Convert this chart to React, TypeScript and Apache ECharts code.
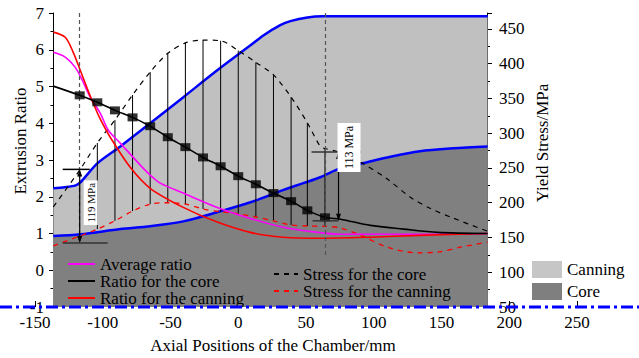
import React, { useEffect, useRef } from 'react';
import * as echarts from 'echarts';

const FONT = 'Liberation Serif';

// ---- x axis (mm) and y axes ----
const xMin = -150;
const xMax = 250;
const xStep = 50;
const ratioMin = -1;
const ratioMax = 7;
const stressMin = 50;
const stressMax = 473;
const stressStep = 50;

// ---- boundary of the canning (upper blue line, light gray area) ----
const canningBoundX = [-136.5, -128, -120, -116.5, -104, -87, -65, -40.5, -15.5, 9, 18.5, 31, 38.5, 51, 62.5, 184];
const canningBoundY = [2.23, 2.26, 2.31, 2.39, 2.91, 3.37, 4.0, 4.71, 5.44, 6.12, 6.39, 6.67, 6.78, 6.88, 6.91, 6.91];

// ---- boundary of the core (lower blue line, dark gray area) ----
const coreBoundX = [-136.5, -116.5, -87, -65, -40.5, -15.5, 9, 33, 48, 60.5, 75.5, 91.5, 110, 134, 158.5, 184];
const coreBoundY = [0.93, 0.98, 1.12, 1.2, 1.33, 1.58, 1.85, 2.18, 2.37, 2.53, 2.78, 2.91, 3.07, 3.24, 3.32, 3.37];

// ---- average ratio ----
const avgRatioX = [-136.5, -127.7, -120.3, -115.1, -109.2, -101.8, -95.9, -87.1, -72.3, -65, -57.6, -40.6, -15.5, 8.9, 33.2, 58.3, 75.3, 134.3, 183.8];
const avgRatioY = [5.93, 5.8, 5.52, 5.17, 4.71, 4.27, 3.81, 3.46, 2.86, 2.59, 2.37, 2.1, 1.71, 1.41, 1.17, 1.03, 0.98, 0.98, 1.0];

// ---- ratio for the core ----
const coreRatioX = [-136.5, -117, -104, -91, -78, -65, -52, -39, -26, -13, 0, 13, 26, 39, 51, 64, 75.5, 97.5, 122, 147, 184];
const coreRatioY = [5.01, 4.76, 4.57, 4.35, 4.16, 3.92, 3.62, 3.35, 3.07, 2.83, 2.56, 2.34, 2.1, 1.88, 1.63, 1.44, 1.39, 1.22, 1.12, 1.03, 1.0];

// ---- ratio for the canning ----
const canRatioX = [-136.5, -127.7, -121.8, -116.6, -111.5, -107, -101.8, -94.5, -79.7, -65, -40.6, -15.5, 8.9, 33.2, 58.3, 97.4, 134.3, 183.8];
const canRatioY = [6.48, 6.34, 5.93, 5.44, 4.95, 4.54, 4.11, 3.62, 2.8, 2.23, 1.71, 1.31, 1.03, 0.9, 0.87, 0.9, 0.95, 1.0];

// ---- markers on the core ratio curve ----
const markerX = [-117, -104, -91, -78, -65, -52, -39, -26, -13, 0, 13, 26, 39, 51, 64];
const markerRatio = [4.76, 4.57, 4.35, 4.16, 3.92, 3.62, 3.35, 3.07, 2.83, 2.56, 2.34, 2.1, 1.88, 1.63, 1.44];
const markerCoreStress = [247, 286, 319, 355, 388, 415, 430, 434, 433, 419, 402, 384, 352, 315, 278];
const markerCanStress = [152, 162, 174, 188, 198, 200, 198, 191, 187, 184, 179.5, 174, 168, 166.5, 166];

// ---- stress for the core ----
const coreStressX = [-136.5, -117, -104, -91, -78, -65, -52, -39, -26, -13, 0, 13, 26, 39, 51, 60.5, 64, 74, 91.5, 110, 127, 141.5, 158.5, 184];
const coreStressY = [194, 247, 286, 319, 355, 388, 415, 430, 434, 433, 419, 402, 384, 352, 315, 281, 278, 273, 257, 234, 208, 192, 178, 159];

// ---- stress for the canning ----
const canStressX = [-136.5, -117, -104, -91, -78, -65, -52, -39, -26, -13, 0, 13, 26, 39, 51, 64, 75, 90, 110, 132, 147, 164, 184];
const canStressY = [138, 152, 162, 174, 188, 198, 200, 198, 191, 187, 184, 179.5, 174, 168, 166.5, 166, 164, 153.6, 136, 128, 129, 136, 143.5];

// ---- annotations ----
const annotX = [-117, 74];
const annotTop = [248, 273];
const annotBottom = [142, 174];
const annotText = ['119 MPa', '113 MPa'];

// ---- dashed guide lines ----
const guideX = [-117, 64];
const guideBottom = [0.73, 0.41];

const zip = (xs: number[], ys: number[]) => xs.map((x, i) => [x, ys[i]]);

const ANNOT_LAYOUT = [
  { topBar: [-17, 10], botBar: [-17, 28], box: { dx0: 4, dx1: 18, fromTop: 11, fromBot: -18, h: 0 } },
  { topBar: [-27, 22], botBar: [-26, 0], box: { dx0: -1, dx1: 22, fromTop: -29, fromBot: null as any, h: 49 } },
];

export default function App() {
  const ref = useRef<HTMLDivElement>(null);

  useEffect(() => {
    if (!ref.current) return;
    const chart = echarts.init(ref.current, undefined, { renderer: 'svg' });

    const labelStyle = { fontFamily: FONT, fontSize: 17, color: '#000' };
    const noSymbol = { color: 'transparent', borderColor: 'transparent', borderWidth: 0 };

    const option: any = {
      animation: false,
      backgroundColor: '#fff',
      textStyle: { fontFamily: FONT },
      grid: { left: 35, right: 62, top: 13, bottom: 51, containLabel: false },
      xAxis: {
        type: 'value',
        min: xMin,
        max: xMax,
        interval: xStep,
        axisLine: { show: false, onZero: false },
        axisTick: { show: true, inside: true, length: 6, lineStyle: { color: '#000' } },
        axisLabel: { ...labelStyle, margin: 7 },
        splitLine: { show: false },
      },
      yAxis: [
        {
          type: 'value',
          min: ratioMin,
          max: ratioMax,
          interval: 1,
          position: 'left',
          offset: -18,
          axisLine: { show: true, onZero: false, lineStyle: { color: '#000', width: 1 } },
          axisTick: { show: true, length: 4, lineStyle: { color: '#000' } },
          minorTick: { show: true, splitNumber: 2, length: 2.5, lineStyle: { color: '#000' } },
          axisLabel: { ...labelStyle, margin: 9 },
          splitLine: { show: false },
        },
        {
          type: 'value',
          min: stressMin,
          max: stressMax,
          interval: stressStep,
          position: 'right',
          offset: -90,
          axisLine: { show: true, onZero: false, lineStyle: { color: '#000', width: 1 } },
          axisTick: { show: true, length: 5, lineStyle: { color: '#000' } },
          minorTick: { show: true, splitNumber: 2, length: 3, lineStyle: { color: '#000' } },
          axisLabel: { ...labelStyle, margin: 12, showMaxLabel: false },
          splitLine: { show: false },
        },
      ],
      legend: [
        {
          data: ['Average ratio', 'Ratio for the core', 'Ratio for the canning'],
          orient: 'vertical',
          left: 67,
          top: 255.5,
          padding: 0,
          itemGap: 0,
          itemWidth: 27,
          itemHeight: 15,
          selectedMode: false,
          itemStyle: noSymbol,
          textStyle: { ...labelStyle, lineHeight: 15 },
        },
        {
          data: ['Stress for the core', 'Stress for the canning'],
          orient: 'vertical',
          left: 273,
          top: 265.5,
          padding: 0,
          itemGap: 0,
          itemWidth: 24,
          itemHeight: 15,
          selectedMode: false,
          itemStyle: noSymbol,
          textStyle: { ...labelStyle, lineHeight: 15 },
        },
        {
          data: [
            { name: 'Canning', icon: 'rect', itemStyle: { color: '#c6c6c6', borderWidth: 0, borderColor: 'transparent' } },
            { name: 'Core', icon: 'rect', itemStyle: { color: '#7f7f7f', borderWidth: 0, borderColor: 'transparent' } },
          ],
          orient: 'vertical',
          left: 532,
          top: 261,
          padding: 0,
          itemGap: 5,
          itemWidth: 30,
          itemHeight: 17,
          selectedMode: false,
          textStyle: { ...labelStyle },
        },
      ],
      series: [
        {
          name: 'Canning',
          type: 'line',
          data: zip(canningBoundX, canningBoundY),
          smooth: 0.3,
          symbol: 'none',
          lineStyle: { color: '#0000ff', width: 2.5 },
          itemStyle: { color: '#c0c0c0' },
          areaStyle: { color: '#c0c0c0', opacity: 1, origin: 'start' },
          z: 1,
        },
        {
          name: 'Core',
          type: 'line',
          data: zip(coreBoundX, coreBoundY),
          smooth: 0.3,
          symbol: 'none',
          lineStyle: { color: '#0000ff', width: 2.5 },
          itemStyle: { color: '#808080' },
          areaStyle: { color: '#808080', opacity: 1, origin: 'start' },
          z: 1,
        },
        {
          name: 'stress difference',
          type: 'custom',
          yAxisIndex: 1,
          z: 3,
          data: markerX.slice(1).map((x, i) => [x, markerCoreStress[i + 1], markerCanStress[i + 1]]),
          renderItem: (params: any, api: any) => {
            const p1 = api.coord([api.value(0), api.value(1)]);
            const p2 = api.coord([api.value(0), api.value(2)]);
            return {
              type: 'line',
              shape: { x1: p1[0], y1: p1[1], x2: p2[0], y2: p2[1] },
              style: { stroke: '#000', lineWidth: 1 },
            };
          },
        },
        {
          name: 'Stress for the core',
          type: 'line',
          yAxisIndex: 1,
          data: zip(coreStressX, coreStressY),
          smooth: 0.3,
          symbol: 'none',
          lineStyle: { color: '#000', width: 1.2, type: [5, 5] },
          itemStyle: { color: '#000' },
          z: 3,
        },
        {
          name: 'Stress for the canning',
          type: 'line',
          yAxisIndex: 1,
          data: zip(canStressX, canStressY),
          smooth: 0.3,
          symbol: 'none',
          lineStyle: { color: '#ff0000', width: 1.3, type: [5, 5] },
          itemStyle: { color: '#ff0000' },
          z: 3,
        },
        {
          name: 'Average ratio',
          type: 'line',
          data: zip(avgRatioX, avgRatioY),
          smooth: 0.3,
          symbol: 'none',
          lineStyle: { color: '#ff00ff', width: 1.6 },
          itemStyle: { color: '#ff00ff' },
          z: 4,
        },
        {
          name: 'Ratio for the canning',
          type: 'line',
          data: zip(canRatioX, canRatioY),
          smooth: 0.3,
          symbol: 'none',
          lineStyle: { color: '#ff0000', width: 1.6 },
          itemStyle: { color: '#ff0000' },
          z: 4,
        },
        {
          name: 'Ratio for the core',
          type: 'line',
          data: zip(coreRatioX, coreRatioY),
          smooth: 0.3,
          symbol: 'none',
          lineStyle: { color: '#000', width: 1.6 },
          itemStyle: { color: '#000' },
          z: 4,
          markLine: {
            silent: true,
            symbol: ['none', 'none'],
            label: { show: false },
            lineStyle: { color: '#555', type: [4, 3], width: 1.2 },
            data: guideX.map((x, i) => [{ coord: [x, ratioMax] }, { coord: [x, guideBottom[i]] }]),
          },
        },
        {
          name: 'core markers',
          type: 'scatter',
          data: zip(markerX, markerRatio),
          symbol: 'rect',
          symbolSize: [10, 8],
          itemStyle: { color: '#000' },
          z: 5,
        },
        {
          name: 'annotations',
          type: 'custom',
          yAxisIndex: 1,
          z: 6,
          data: annotX.map((x, i) => [x, annotTop[i], annotBottom[i]]),
          renderItem: (params: any, api: any) => {
            const i = params.dataIndex;
            const L = ANNOT_LAYOUT[i];
            const t = api.coord([api.value(0), api.value(1)]);
            const b = api.coord([api.value(0), api.value(2)]);
            const cx = t[0];
            const ty = t[1];
            const by = b[1];
            const bx0 = cx + L.box.dx0;
            const bx1 = cx + L.box.dx1;
            const by0 = ty + L.box.fromTop;
            const by1 = L.box.fromBot !== null ? by + L.box.fromBot : by0 + L.box.h;
            const barColor = i === 0 ? '#000' : '#333';
            return {
              type: 'group',
              children: [
                { type: 'line', shape: { x1: cx + L.topBar[0], y1: ty, x2: cx + L.topBar[1], y2: ty }, style: { stroke: barColor, lineWidth: 1.5 } },
                { type: 'line', shape: { x1: cx + L.botBar[0], y1: by, x2: cx + L.botBar[1], y2: by }, style: { stroke: '#333', lineWidth: 1.5 } },
                { type: 'line', shape: { x1: cx, y1: ty + 2, x2: cx, y2: by - 2 }, style: { stroke: '#000', lineWidth: 1.2 } },
                { type: 'polygon', shape: { points: [[cx, ty], [cx - 2.5, ty + 7], [cx + 2.5, ty + 7]] }, style: { fill: '#000' } },
                { type: 'polygon', shape: { points: [[cx, by], [cx - 2.5, by - 7], [cx + 2.5, by - 7]] }, style: { fill: '#000' } },
                { type: 'rect', shape: { x: bx0, y: by0, width: bx1 - bx0, height: by1 - by0 }, style: { fill: '#fff' } },
                {
                  type: 'text',
                  x: (bx0 + bx1) / 2,
                  y: (by0 + by1) / 2,
                  rotation: Math.PI / 2,
                  style: {
                    text: annotText[i],
                    fill: '#000',
                    fontFamily: FONT,
                    fontSize: i === 0 ? 11 : 12,
                    align: 'center',
                    verticalAlign: 'middle',
                  },
                },
              ],
            };
          },
        },
      ],
    };

    chart.setOption(option);

    const baseY = chart.convertToPixel({ yAxisIndex: 0 }, ratioMin) as number;
    chart.setOption({
      graphic: [
        {
          type: 'line',
          z: 100,
          shape: { x1: 0, y1: baseY, x2: 639, y2: baseY },
          style: { stroke: '#0000ff', lineWidth: 3, lineDash: [12, 4, 3, 4] },
        },
        {
          type: 'text',
          x: 20,
          y: 141,
          rotation: Math.PI / 2,
          style: { text: 'Extrusion Ratio', fill: '#000', fontFamily: FONT, fontSize: 17, align: 'center', verticalAlign: 'middle' },
        },
        {
          type: 'text',
          x: 542,
          y: 143,
          rotation: Math.PI / 2,
          style: { text: 'Yield Stress/MPa', fill: '#000', fontFamily: FONT, fontSize: 17, align: 'center', verticalAlign: 'middle' },
        },
        {
          type: 'text',
          x: 273,
          y: 345,
          style: { text: 'Axial Positions of the Chamber/mm', fill: '#000', fontFamily: FONT, fontSize: 17, align: 'center', verticalAlign: 'middle' },
        },
      ],
    });

    return () => chart.dispose();
  }, []);

  return (
    <div
      ref={ref}
      style={{ position: 'fixed', left: 0, top: 0, width: 639, height: 358, background: '#fff' }}
    />
  );
}
